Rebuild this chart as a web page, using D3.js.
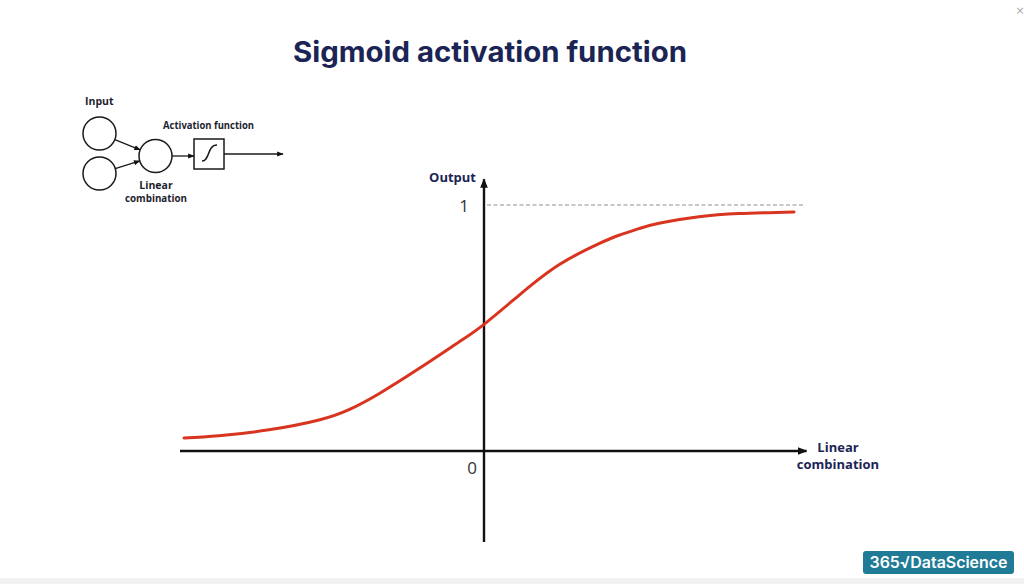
<!DOCTYPE html>
<html>
<head>
<meta charset="utf-8">
<script src="https://cdn.jsdelivr.net/npm/d3@7"></script>
<style>
  html, body { margin: 0; padding: 0; background: #fff; }
  svg { display: block; }
</style>
</head>
<body>
<svg id="chart" width="1024" height="584"></svg>
<script>
// curve points (x in linear-combination units, y = output)
const curveX = [-6, -5.3, -4.3, -3.3, -2.7, -2.1, -1.3, -0.5, 0, 0.7, 1.5, 2.3, 2.7, 3.1, 3.5, 4.3, 5.1, 6.2];
const curveY = [0.053, 0.062, 0.086, 0.126, 0.168, 0.233, 0.335, 0.443, 0.515, 0.633, 0.757, 0.843, 0.877, 0.904, 0.926, 0.952, 0.965, 0.972];
const xTickLabels = ['0'];
const yTickLabels = ['1'];
const title = 'Sigmoid activation function';
const xAxisLabel = ['Linear', 'combination'];
const yAxisLabel = 'Output';

const navy = '#1b2455';
const svg = d3.select('#chart');

// bottom grey strip of the screenshot
svg.append('rect').attr('x', 0).attr('y', 578).attr('width', 1024).attr('height', 6).attr('fill', '#f2f2f2');
svg.append('text').attr('x', 1020).attr('y', 14).attr('text-anchor', 'middle')
  .attr('font-family', 'DejaVu Sans').attr('font-size', 11).attr('fill', '#aaa').text('×');

svg.append('text')
  .attr('x', 490).attr('y', 62)
  .attr('text-anchor', 'middle')
  .attr('font-family', 'Inter, Lato, sans-serif')
  .attr('font-weight', 700)
  .attr('font-size', 28)
  .attr('textLength', 394).attr('lengthAdjust', 'spacingAndGlyphs')
  .attr('fill', navy)
  .text(title);

const x = d3.scaleLinear().domain([0, 1]).range([484, 534]);   // 50px per unit
const y = d3.scaleLinear().domain([0, 1]).range([451, 205]);

const defs = svg.append('defs');
defs.append('marker').attr('id', 'arr').attr('viewBox', '0 0 10 10')
  .attr('refX', 9).attr('refY', 5).attr('markerWidth', 4).attr('markerHeight', 4)
  .attr('orient', 'auto-start-reverse').attr('markerUnits', 'strokeWidth')
  .append('path').attr('d', 'M0,1 L10,5 L0,9 Z').attr('fill', '#111');
defs.append('marker').attr('id', 'arrs').attr('viewBox', '0 0 10 10')
  .attr('refX', 9).attr('refY', 5).attr('markerWidth', 5).attr('markerHeight', 5)
  .attr('orient', 'auto').attr('markerUnits', 'strokeWidth')
  .append('path').attr('d', 'M0,1 L10,5 L0,9 Z').attr('fill', '#111');

// dashed asymptote at 1
svg.append('line')
  .attr('x1', x(0.06)).attr('x2', x(6.42))
  .attr('y1', y(1)).attr('y2', y(1))
  .attr('stroke', '#b5b5b5').attr('stroke-width', 1.3).attr('stroke-dasharray', '4,2.5');

// axes
svg.append('line')
  .attr('x1', x(-6.08)).attr('x2', x(6.45))
  .attr('y1', y(0)).attr('y2', y(0))
  .attr('stroke', '#111').attr('stroke-width', 2.4).attr('marker-end', 'url(#arr)');
svg.append('line')
  .attr('x1', x(0)).attr('x2', x(0))
  .attr('y1', y(-0.37)).attr('y2', y(1.105))
  .attr('stroke', '#111').attr('stroke-width', 2.4).attr('marker-end', 'url(#arr)');

// tick labels
svg.append('text').attr('x', x(0) - 12).attr('y', y(0) + 23)
  .attr('text-anchor', 'middle').attr('font-family', 'Open Sans, sans-serif')
  .attr('font-size', 17).attr('fill', '#333').text(xTickLabels[0]);
svg.append('text').attr('x', x(0) - 20).attr('y', y(1) + 7)
  .attr('text-anchor', 'middle').attr('font-family', 'Open Sans, sans-serif')
  .attr('font-size', 17).attr('fill', '#333').text(yTickLabels[0]);

// axis titles
svg.append('text').attr('x', x(0) - 8).attr('y', y(1.095))
  .attr('text-anchor', 'end').attr('font-family', 'Open Sans, sans-serif')
  .attr('font-weight', 700).attr('font-size', 13).attr('fill', navy).text(yAxisLabel);
svg.append('text').attr('x', x(7.08)).attr('y', y(0) + 1)
  .attr('text-anchor', 'middle').attr('font-family', 'Open Sans, sans-serif')
  .attr('font-weight', 700).attr('font-size', 13).attr('fill', navy)
  .selectAll('tspan').data(xAxisLabel).join('tspan')
  .attr('x', x(7.08)).attr('dy', (d, i) => i === 0 ? 0 : 17).text(d => d);

// sigmoid curve
const pts = curveX.map((v, i) => [v, curveY[i]]);
svg.append('path')
  .datum(pts)
  .attr('fill', 'none')
  .attr('stroke', '#d8341f')
  .attr('stroke-width', 3)
  .attr('stroke-linecap', 'round')
  .attr('d', d3.line().x(d => x(d[0])).y(d => y(d[1])).curve(d3.curveNatural));

// neuron diagram, top left
const g = svg.append('g');
const ink = '#1a1a1a';
const r = 16.5;
const nodes = [[99.5, 133.5], [99.5, 173.5], [155.5, 156]];
g.selectAll('circle').data(nodes).join('circle')
  .attr('cx', d => d[0]).attr('cy', d => d[1]).attr('r', r)
  .attr('fill', 'none').attr('stroke', ink).attr('stroke-width', 1.5);
[nodes[0], nodes[1]].forEach(n => {
  const dx = nodes[2][0] - n[0], dy = nodes[2][1] - n[1];
  const len = Math.hypot(dx, dy);
  g.append('line')
    .attr('x1', n[0] + dx / len * r).attr('y1', n[1] + dy / len * r)
    .attr('x2', nodes[2][0] - dx / len * r).attr('y2', nodes[2][1] - dy / len * r)
    .attr('stroke', ink).attr('stroke-width', 1.3).attr('marker-end', 'url(#arrs)');
});
g.append('line').attr('x1', 172).attr('x2', 194).attr('y1', 156).attr('y2', 156)
  .attr('stroke', ink).attr('stroke-width', 1.3).attr('marker-end', 'url(#arrs)');
g.append('rect').attr('x', 194).attr('y', 139).attr('width', 30).attr('height', 30)
  .attr('fill', 'none').attr('stroke', ink).attr('stroke-width', 1.5);
g.append('path').attr('d', 'M202,161 C210,161 207,145 217,145')
  .attr('fill', 'none').attr('stroke', ink).attr('stroke-width', 1.5);
g.append('line').attr('x1', 224).attr('x2', 283).attr('y1', 154).attr('y2', 154)
  .attr('stroke', ink).attr('stroke-width', 1.3).attr('marker-end', 'url(#arrs)');

const lab = (t, xx, yy, anchor, w) => {
  const el = g.append('text').attr('x', xx).attr('y', yy)
    .attr('text-anchor', anchor).attr('font-family', 'Open Sans, sans-serif')
    .attr('font-weight', 700).attr('font-size', 10.5).attr('fill', '#1d1d2e').text(t);
  if (w) el.attr('textLength', w).attr('lengthAdjust', 'spacingAndGlyphs');
};
lab('Input', 85, 105, 'start');
lab('Activation function', 208.5, 129, 'middle', 91);
lab('Linear', 156, 189, 'middle');
lab('combination', 156, 202, 'middle', 62);

// logo
svg.append('rect').attr('x', 863).attr('y', 551).attr('width', 151).attr('height', 23)
  .attr('rx', 3).attr('fill', '#1f7b96');
svg.append('text').attr('x', 938.5).attr('y', 568).attr('text-anchor', 'middle')
  .attr('font-family', 'Inter, sans-serif').attr('font-weight', 600).attr('font-size', 15.5)
  .attr('textLength', 138).attr('lengthAdjust', 'spacingAndGlyphs')
  .attr('fill', '#fff').text('365√DataScience');
</script>
</body>
</html>
